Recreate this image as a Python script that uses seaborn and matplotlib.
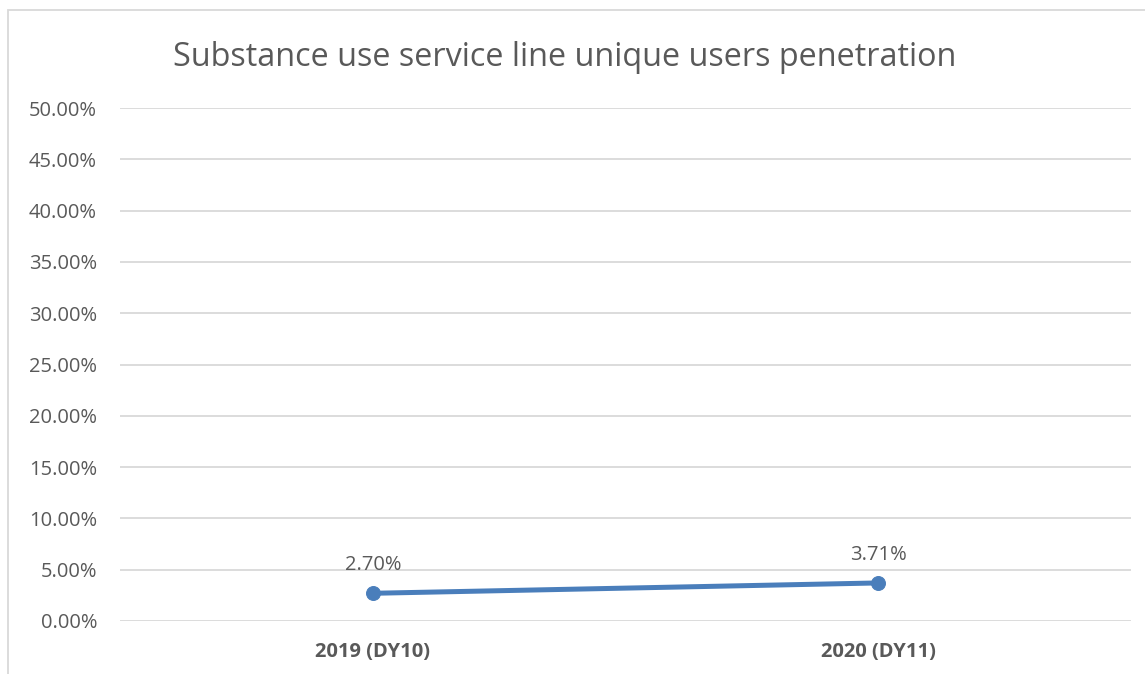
import matplotlib
matplotlib.use("Agg")
import matplotlib.pyplot as plt
import seaborn as sns
import pandas as pd
from matplotlib.patches import Rectangle
from matplotlib.ticker import FuncFormatter, MultipleLocator

years = ["2019 (DY10)", "2020 (DY11)"]
penetration = [2.70, 3.71]
point_labels = ["2.70%", "3.71%"]

sns.set_theme(style="white")
plt.rcParams["font.family"] = ["Open Sans", "DejaVu Sans"]

text_color = "#595959"
grid_color = "#d9d9d9"
line_color = "#4a7ebb"

df = pd.DataFrame({"year": years, "value": penetration})

fig = plt.figure(figsize=(11.45, 6.74), dpi=100)
ax = fig.add_axes([120 / 1145, 53 / 674, 1011 / 1145, 513 / 674])

sns.lineplot(data=df, x="year", y="value", ax=ax, color=line_color,
             linewidth=3.6, marker="o", markersize=10,
             markeredgecolor=line_color, sort=False)

ax.set_xlim(-0.5, 1.5)
ax.set_ylim(0, 50)
ax.yaxis.set_major_locator(MultipleLocator(5))
ax.yaxis.set_major_formatter(FuncFormatter(lambda v, _: f"{v:.2f}%"))
ax.grid(axis="y", color=grid_color, linewidth=1.3)
ax.set_axisbelow(True)
for s in ax.spines.values():
    s.set_visible(False)
ax.set_xlabel("")
ax.set_ylabel("")
ax.tick_params(axis="y", colors=text_color, labelsize=14.5, length=0, pad=16.5)
ax.tick_params(axis="x", colors=text_color, labelsize=14.5, length=0, pad=15)
for lab in ax.get_xticklabels():
    lab.set_fontweight("bold")

for i, (v, t) in enumerate(zip(penetration, point_labels)):
    ax.annotate(t, (i, v), xytext=(0, 13), textcoords="offset points",
                ha="center", va="bottom", fontsize=14.5, color=text_color)

fig.text(565 / 1145, 1 - 57 / 674, "Substance use service line unique users penetration",
         ha="center", va="center", fontsize=23.3, color=text_color)

# chart frame
fig.patches.append(Rectangle((8 / 1145, -0.1), 1.2, 1.1 - 10 / 674,
                             transform=fig.transFigure, fill=False,
                             edgecolor=grid_color, linewidth=1.3))

fig.savefig("out.png", dpi=100, facecolor="white")
